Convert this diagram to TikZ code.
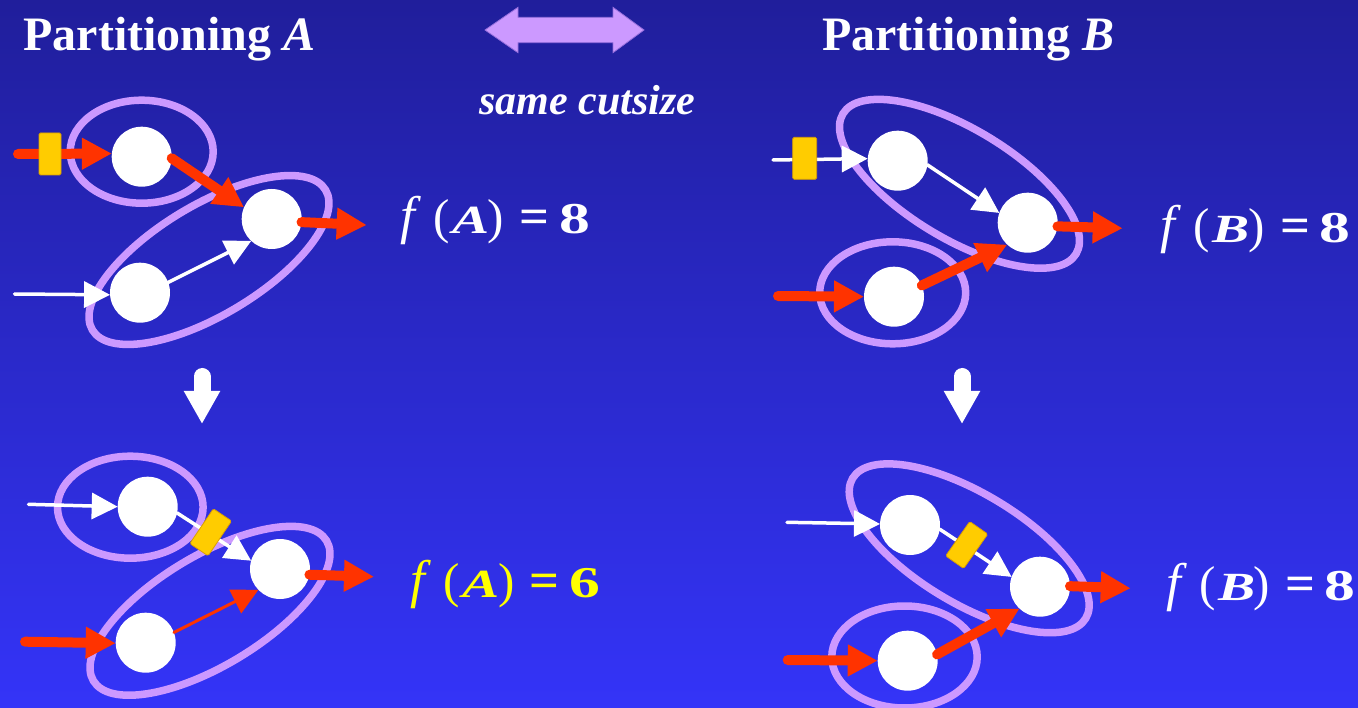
\documentclass[tikz,border=0pt]{standalone}
\usepackage{fontspec}
\usepackage{graphicx}
\setmainfont{Liberation Serif}
\usetikzlibrary{arrows.meta}
\definecolor{bgtop}{RGB}{32,30,155}
\definecolor{bgmid}{RGB}{44,44,215}
\definecolor{bgbot}{RGB}{52,52,248}
\definecolor{lav}{RGB}{204,153,255}
\definecolor{lavdark}{RGB}{150,110,220}
\definecolor{rd}{RGB}{255,51,0}
\definecolor{yl}{RGB}{255,204,0}
\definecolor{yldark}{RGB}{220,160,0}
\definecolor{eqyellow}{RGB}{255,255,0}
\newcommand{\myeq}[2]{{\fontsize{53}{53}\selectfont\itshape f}\hspace{18.5pt}{\fontsize{49}{49}\selectfont(}\hspace{2.35pt}\scalebox{1.39}[1]{\fontsize{40}{40}\selectfont\bfseries\itshape #1}\hspace{-1.5pt}{\fontsize{49}{49}\selectfont)}\hspace{15.5pt}\scalebox{1.05}[1]{\fontsize{50}{50}\selectfont\bfseries =}\hspace{9.5pt}\scalebox{1.4}[1]{\fontsize{44}{44}\selectfont\bfseries #2}}
\tikzset{
 vert/.style={circle, fill=white, minimum size=60pt, inner sep=0pt, outer sep=0pt},
 part/.style={draw=lav, line width=7.5pt},
 redthick/.style={draw=rd, line width=10pt, line cap=round, -{Triangle[length=30pt,width=30pt]}},
 redthin/.style={draw=rd, line width=3pt, line cap=round, -{Triangle[length=26pt,width=26pt]}},
 whitearr/.style={draw=white, line width=3.5pt, line cap=round, -{Triangle[length=26pt,width=26pt]}},
 latch/.style={rectangle, fill=yl, draw=yldark, line width=0.8pt, rounded corners=1.5pt, minimum width=22pt, minimum height=42pt, inner sep=0pt},
 downarr/.style={draw=white, line width=17pt, line cap=round, -{Triangle[length=33pt,width=34pt]}},
 title/.style={text=white, font=\fontsize{48}{58}\selectfont\bfseries, anchor=base west, inner sep=0pt},
 eq/.style={text=white, font=\fontsize{40}{48}\selectfont, anchor=base west, inner sep=0pt},
 sub/.style={text=white, font=\fontsize{42}{50}\selectfont\bfseries\itshape, anchor=base west, inner sep=0pt},
}
\begin{document}
\begin{tikzpicture}[x=1pt,y=-1pt]
\useasboundingbox (0,0) rectangle (1358,708);
\shade[top color=bgtop, middle color=bgmid, bottom color=bgbot] (0,0) rectangle (1358,708);

% partitions (ellipses)
\draw[part] (141.7,151.7) ellipse [x radius=71.5pt, y radius=51.5pt];
\draw[part, rotate around={31:(209,260)}] (209,260) ellipse [x radius=136pt, y radius=55pt];
\draw[part, rotate around={-31:(959.5,183.8)}] (959.5,183.8) ellipse [x radius=136pt, y radius=55pt];
\draw[part] (892.7,292.8) ellipse [x radius=73pt, y radius=51pt];
\draw[part] (130.3,507.2) ellipse [x radius=72.8pt, y radius=51pt];
\draw[part, rotate around={31:(210,610.8)}] (210,610.8) ellipse [x radius=136pt, y radius=55pt];
\draw[part, rotate around={-31:(969.2,548.3)}] (969.2,548.3) ellipse [x radius=136pt, y radius=55pt];
\draw[part] (904.5,657) ellipse [x radius=72.7pt, y radius=51pt];

% vertices
\node[vert] (A1) at (141.7,156.7) {};
\node[vert] (A2) at (271.7,219) {};
\node[vert] (A3) at (140,292.7) {};
\node[vert] (B1) at (897.7,160.7) {};
\node[vert] (B2) at (1027.7,222.7) {};
\node[vert] (B3) at (894,296.7) {};
\node[vert] (C1) at (147.7,506.7) {};
\node[vert] (C2) at (280,569) {};
\node[vert] (C3) at (145.7,642.7) {};
\node[vert] (D1) at (910,525) {};
\node[vert] (D2) at (1040,586.7) {};
\node[vert] (D3) at (907.7,660.7) {};

% free ends
\coordinate (a1in) at (18,154);
\coordinate (a3in) at (14.5,294);
\coordinate (a2out) at (366.7,225);
\coordinate (b1in) at (773,160);
\coordinate (b3in) at (778,296);
\coordinate (b2out) at (1122.7,228.3);
\coordinate (c1in) at (28.5,504.3);
\coordinate (c3in) at (25,641.7);
\coordinate (c2out) at (374,576.7);
\coordinate (d1in) at (787,522.3);
\coordinate (d3in) at (787.7,660);
\coordinate (d2out) at (1130.7,588.3);

% connectors A
\draw[redthick] (a1in) -- (A1.174);
\draw[redthick] (A1.-3) -- (A2.157);
\draw[redthick] (A2.-6) -- (a2out);
\draw[whitearr] (a3in) -- (A3.184);
\draw[whitearr] (A3.20) -- (A2.227);
% connectors B
\draw[whitearr] (b1in) -- (B1.176);
\draw[whitearr] (B1.-8) -- (B2.161);
\draw[redthick] (B2.-7) -- (b2out);
\draw[redthick] (b3in) -- (B3.180);
\draw[redthick] (B3.22) -- (B2.227);
% connectors C
\draw[whitearr] (c1in) -- (C1.180);
\draw[whitearr] (C1.-12) -- (C2.164);
\draw[redthick] (C2.-11) -- (c2out);
\draw[redthick] (c3in) -- (C3.181);
\draw[redthin] (C3.20) -- (C2.224);
% connectors D
\draw[whitearr] (d1in) -- (D1.178);
\draw[whitearr] (D1.-8) -- (D2.161);
\draw[redthick] (D2.1) -- (d2out);
\draw[redthick] (d3in) -- (D3.180);
\draw[redthick] (D3.12) -- (D2.227);

% latches
\node[latch] (LA) at (50,154) {};
\node[latch, minimum width=24pt] (LB) at (804.7,158.3) {};
\node[latch, rotate=-34] (LC) at (210.7,532.3) {};
\node[latch, rotate=-35] (LD) at (966.7,545) {};

% down arrows
\coordinate (dA1) at (202,376.5);
\coordinate (dA2) at (202,424);
\coordinate (dB1) at (962,376.5);
\coordinate (dB2) at (962,424);
\draw[downarr] (dA1) -- (dA2);
\draw[downarr] (dB1) -- (dB2);

% double arrow
\filldraw[fill=lav, draw=lavdark, line width=0.8pt] (485,30) -- (518,7.3) -- (518,17.3) -- (613,17.3) -- (613,7.3) -- (644,30) -- (613,52.7) -- (613,42.7) -- (518,42.7) -- (518,52.7) -- cycle;

% texts
\node[title] (tA) at (23.2,50.7) {Partitioning \textit{A}};
\node[title] (tB) at (821.9,50.7) {Partitioning \textit{B}};
\node[sub] (same) at (479,115) {same cutsize};
\node[eq] (eA) at (400.1,234) {\myeq{A}{8}};
\node[eq] (eB) at (1160.5,242.4) {\myeq{B}{8}};
\node[eq, text=eqyellow] (eA2) at (410.5,597.2) {\myeq{A}{6}};
\node[eq] (eB2) at (1166,600.5) {\myeq{B}{8}};
\end{tikzpicture}
\end{document}
